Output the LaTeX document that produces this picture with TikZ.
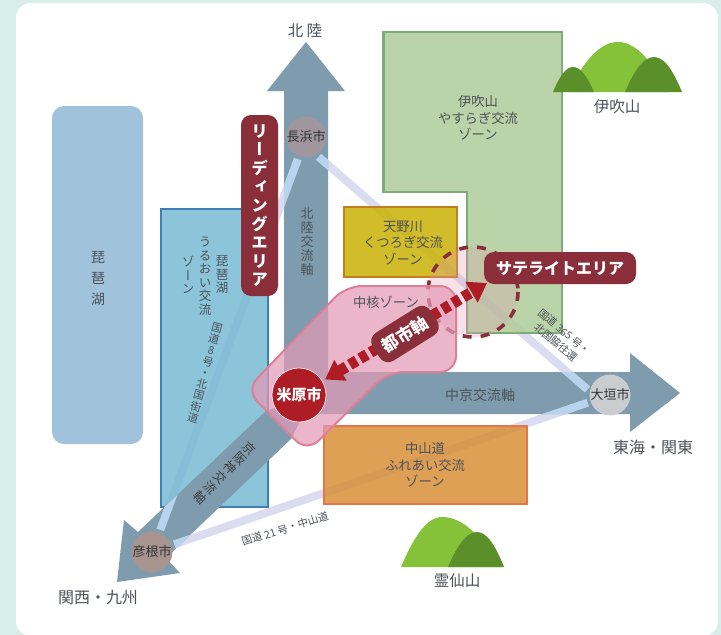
\documentclass[tikz,border=0pt]{standalone}
\usepackage{fontspec}
\setmainfont{Noto Sans CJK JP}
\newfontfamily\vjp[RawFeature=+vert]{Noto Sans CJK JP}
\usetikzlibrary{arrows.meta,backgrounds}
\definecolor{bgmint}{HTML}{D8EEE8}
\definecolor{lake}{HTML}{A0C3DB}
\definecolor{bluezone}{RGB}{119,185,211}
\definecolor{blueedge}{HTML}{3F7FB5}
\definecolor{greenzone}{RGB}{175,203,152}
\definecolor{greenedge}{HTML}{7FAB78}
\definecolor{yellowzone}{RGB}{201,176,0}
\definecolor{yellowedge}{HTML}{C47F22}
\definecolor{orangezone}{RGB}{216,142,53}
\definecolor{orangeedge}{HTML}{E2764A}
\definecolor{axis}{HTML}{7F9CAE}
\definecolor{maroon}{HTML}{8A2F3A}
\definecolor{crimson}{HTML}{AE1C26}
\definecolor{corepink}{HTML}{E49AB6}
\definecolor{coreedge}{HTML}{DC8098}
\definecolor{roadlow}{HTML}{DCDCF0}
\definecolor{roadhigh}{HTML}{B8D3EC}
\definecolor{mtdark}{HTML}{5B8F2A}
\definecolor{mtlight}{HTML}{86C13A}
\definecolor{ink}{HTML}{4C5258}
\definecolor{cityA}{HTML}{A0979E}
\definecolor{cityB}{HTML}{A8948F}
\definecolor{cityC}{HTML}{C9CDD0}
\pgfdeclarelayer{roadsA}\pgfdeclarelayer{zones}\pgfdeclarelayer{axes}\pgfdeclarelayer{roadsB}
\pgfsetlayers{background,roadsA,zones,axes,roadsB,main}
\newcommand\arrN{(284,410) -- (284,91) -- (267,91) -- (306,42) -- (345,91) -- (328,91) -- (328,410) -- cycle}
\newcommand\arrE{(300,372) -- (630,372) -- (630,353) -- (680,393) -- (630,432) -- (630,414) -- (300,414) -- cycle}
\newcommand\arrS{(267,410) -- (138,532) -- (124,520) -- (117,582) -- (180,573) -- (166,558) -- (292,438) -- (310,400) -- cycle}
\newcommand\mtn[6]{\fill[#1] (#2,#6) .. controls ({#2+.3*(#4-#2)},{#5+.42*(#6-#5)}) and ({#4-.38*(#4-#2)},#5) .. (#4,#5) .. controls ({#4+.38*(#3-#4)},#5) and ({#3-.3*(#3-#4)},{#5+.42*(#6-#5)}) .. (#3,#6) -- cycle;}
\tikzset{
  txt/.style={text=ink,inner sep=0pt,align=center},
  zonetxt/.style={txt,font=\fontsize{13.3}{16.5}\selectfont},
  place/.style={txt,font=\fontsize{15.5}{18}\selectfont},
  vtxt/.style={txt,font=\vjp\fontsize{12.5}{13.5}\selectfont},
  routetxt/.style={txt,font=\fontsize{10.5}{13.5}\selectfont},
  city/.style={circle,minimum size=36pt,inner sep=0pt,text=black!80,font=\fontsize{13}{15}\selectfont},
  zone/.style={line width=2.4pt,fill opacity=.84},
  road/.style={line width=8pt,color=roadlow,shorten <=3pt,shorten >=3pt},
  roadtop/.style={line width=8pt,color=roadhigh,shorten <=3pt,shorten >=3pt},
  badge/.style={fill=maroon,text=white,rounded corners=10pt,inner sep=0pt,font=\bfseries},
}
\begin{document}
\begin{tikzpicture}[x=1pt,y=-1pt]
\useasboundingbox (0,0) rectangle (721,635);
\begin{pgfonlayer}{background}
\fill[bgmint] (0,0) rectangle (721,635);
\fill[white,rounded corners=15pt] (16,3) rectangle (718,636);
\fill[lake,rounded corners=12pt] (52,106) rectangle (143,444);
\end{pgfonlayer}
\node[vtxt,font=\vjp\fontsize{14}{21}\selectfont] (biwa) at (98,279) {琵\\琶\\湖};
% zones
\begin{pgfonlayer}{zones}
\draw[zone,fill=bluezone,draw=blueedge] (161,209) rectangle (268,507);
\draw[zone,fill=greenzone,draw=greenedge] (383.5,32) -- (562,32) -- (562,333) -- (467,333) -- (467,192) -- (383.5,192) -- cycle;
\draw[zone,fill=yellowzone,draw=yellowedge] (344,207) rectangle (457,277);
\draw[zone,fill=orangezone,draw=orangeedge] (324,426) rectangle (527,504);
\end{pgfonlayer}
% axes
\begin{pgfonlayer}{axes}
\fill[axis] \arrN;
\fill[axis] \arrE;
\fill[axis] \arrS;
\end{pgfonlayer}
% cities
\node[city,fill=cityA] (nagahama) at (306,137) {長浜市};
\node[city,fill=cityB] (hikone) at (152,552) {彦根市};
\node[city,fill=cityC] (ogaki) at (610,395) {大垣市};
% roads
\begin{pgfonlayer}{roadsA}
\draw[road] (nagahama) -- (hikone);
\draw[road] (nagahama.-60) -- (ogaki.170);
\draw[road] (ogaki) -- (hikone);
\end{pgfonlayer}
\begin{pgfonlayer}{roadsB}
\begin{scope}\clip \arrN;
\draw[roadtop] (nagahama) -- (hikone);
\draw[roadtop] (nagahama.-60) -- (ogaki.170);
\end{scope}
\begin{scope}\clip \arrE;
\draw[roadtop] (nagahama.-60) -- (ogaki.170);
\draw[roadtop] (ogaki) -- (hikone);
\end{scope}
\begin{scope}\clip \arrS;
\draw[roadtop] (nagahama) -- (hikone);
\draw[roadtop] (ogaki) -- (hikone);
\end{scope}
\end{pgfonlayer}
% satellite circle
\draw[line width=3.6pt,color=maroon,dash pattern=on 9pt off 9pt,fill=corepink,fill opacity=.28] (473,292) circle (45);
% core zone
\draw[line width=2pt,draw=coreedge,fill=corepink,fill opacity=.72,rounded corners=16pt] (456,286) -- (456,372) -- (388,372) -- (307,452) -- (246,390) -- (346,286) -- cycle;
% mountains
\mtn{mtlight}{568}{668}{618}{42}{92}
\mtn{mtdark}{553}{594}{573}{67}{92}
\mtn{mtdark}{625}{682}{654}{57}{92}
\mtn{mtlight}{401}{500}{442}{517}{567}
\mtn{mtdark}{448}{504}{477}{532}{567}
% maibara and axis
\node[circle,fill=crimson,draw=white,line width=.6pt,minimum size=54pt,inner sep=0pt,text=white,font=\bfseries\fontsize{15}{17}\selectfont] (maibara) at (299,395) {米原市};
\coordinate (sattip) at (487,283);
\draw[line width=11pt,color=crimson,dash pattern=on 8pt off 4pt,{Triangle[width=23pt,length=18pt]}-{Triangle[width=23pt,length=18pt]},shorten <=3pt] (maibara) -- (sattip);
\node[badge,rotate=32,minimum width=68pt,minimum height=33pt,font=\bfseries\fontsize{17}{19}\selectfont] (toshi) at (405,334) {都市軸};
\node[badge,minimum width=152pt,minimum height=32pt,font=\bfseries\fontsize{16}{18}\selectfont] (sat) at (560,268) {サテライトエリア};
\node[badge,minimum width=37pt,minimum height=181pt,font=\vjp\bfseries\fontsize{16.5}{18.6}\selectfont,align=center] (lead) at (259.5,205.5) {リ\\ー\\デ\\ィ\\ン\\グ\\エ\\リ\\ア};
% labels
\node[place] (hokuriku) at (305,31) {北 陸};
\node[place,font=\fontsize{16}{18}\selectfont] (tokai) at (653,447) {東海・関東};
\node[place,font=\fontsize{16}{18}\selectfont] (kansai) at (98,598) {関西・九州};
\node[place] (ibuki) at (617,107) {伊吹山};
\node[place] (ryozen) at (457,581) {霊仙山};
\node[zonetxt] (z1) at (478,118) {伊吹山\\やすらぎ交流\\ゾーン};
\node[zonetxt] (z2) at (403,243) {天野川\\くつろぎ交流\\ゾーン};
\node[zonetxt] (z3) at (425,465) {中山道\\ふれあい交流\\ゾーン};
\node[vtxt] (z4a) at (222,275) {琵\\琶\\湖};
\node[vtxt] (z4b) at (205,276) {う\\る\\お\\い\\交\\流};
\node[vtxt] (z4c) at (188,275) {ゾ\\ー\\ン};
\node[vtxt,font=\vjp\fontsize{13}{14}\selectfont] (ax1) at (307,242) {北\\陸\\交\\流\\軸};
\node[vtxt,rotate=-45,font=\vjp\fontsize{12.5}{14}\selectfont,text=black!75] (ax2) at (225,473) {京\\阪\\神\\交\\流\\軸};
\node[txt,font=\fontsize{14}{16}\selectfont] (ax3) at (480,395) {中京交流軸};
\node[txt,font=\fontsize{13.3}{15}\selectfont] (core) at (386,302) {中核ゾーン};
\node[vtxt,rotate=-15,font=\vjp\fontsize{11}{11.6}\selectfont] (r8) at (205,373) {国\\道\\8\\号\\・\\北\\国\\街\\道};
\node[routetxt,rotate=-40] (r365) at (560,337) {国道 365 号・\\北国脇往還};
\node[routetxt,rotate=17] (r21) at (285,529) {国道 21 号・中山道};
\end{tikzpicture}
\end{document}
